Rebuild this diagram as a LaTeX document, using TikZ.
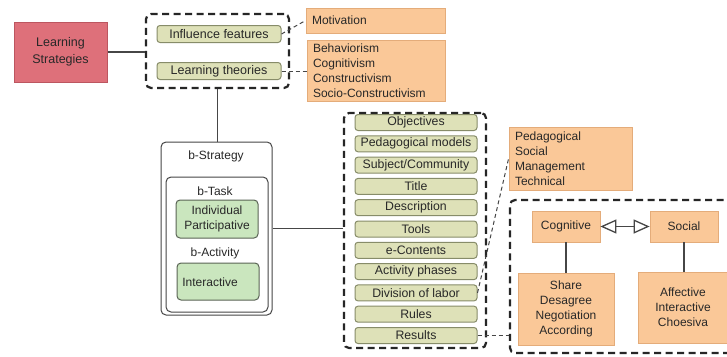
\documentclass[tikz,border=0pt]{standalone}
\usepackage{fontspec}
\setmainfont{Liberation Sans}
\usetikzlibrary{arrows.meta}

\definecolor{orangefill}{RGB}{250,200,152}
\definecolor{orangeedge}{RGB}{228,172,122}
\definecolor{itemfill}{RGB}{222,225,184}
\definecolor{itemedge}{RGB}{135,140,105}
\definecolor{greenfill}{RGB}{202,230,190}
\definecolor{greenedge}{RGB}{90,100,85}
\definecolor{lsfill}{RGB}{222,112,122}
\definecolor{lsedge}{RGB}{188,86,96}
\definecolor{linegray}{RGB}{70,70,70}
\definecolor{txt}{RGB}{40,40,40}

\tikzset{
  base/.style={inner sep=0pt, text=txt, font=\fontsize{12}{15}\selectfont},
  group/.style={draw=black!85, line width=2.2pt, dash pattern=on 7pt off 4.5pt,
    rounded corners=5pt},
  item/.style={base, draw=itemedge, fill=itemfill, line width=1pt,
    rounded corners=3pt, minimum width=122pt, minimum height=16pt,
    font=\fontsize{12.3}{14}\selectfont},
  note/.style={base, draw=orangeedge, fill=orangefill, line width=0.8pt,
    align=left, inner xsep=6pt},
  obox/.style={base, draw=orangeedge, fill=orangefill, line width=0.8pt,
    align=center},
  gbox/.style={base, draw=greenedge, fill=greenfill, line width=1pt,
    rounded corners=4pt, align=center},
  frame/.style={draw=linegray, line width=1pt, rounded corners=5pt, fill=white},
  link/.style={draw=linegray, line width=1.3pt},
  dlink/.style={draw=linegray, line width=1pt, dash pattern=on 4pt off 3pt},
}

\begin{document}
\begin{tikzpicture}[x=1pt, y=-1pt]
\useasboundingbox (0,0) rectangle (727,356);
\clip (0,0) rectangle (727,356);
\fill[white] (0,0) rectangle (727,356);

% root
\node[base, draw=lsedge, fill=lsfill, line width=1pt, minimum width=93pt,
  minimum height=60pt, align=center, font=\fontsize{12.5}{17}\selectfont]
  (ls) at (60.5,52) {Learning\\Strategies};

% influences group
\node[group, minimum width=143pt, minimum height=74pt] (tb) at (217.5,51) {};
\node[item, minimum width=124pt, minimum height=17pt, font=\fontsize{12.5}{15}\selectfont]
  (if) at (219,34) {Influence features};
\node[item, minimum width=124pt, minimum height=17pt, font=\fontsize{12.5}{15}\selectfont]
  (lt) at (219,71) {Learning theories};

\node[note, text width=127pt, minimum height=25pt] (mot) at (375.5,20.5) {Motivation};
\node[note, text width=126pt, minimum height=61pt] (beh) at (376,70.5)
  {Behaviorism\\Cognitivism\\Constructivism\\Socio-Constructivism};

\draw[link] (ls.east) -- (ls.east -| tb.west);
\draw[dlink] (if.east) -- (mot.west);
\draw[dlink] (lt.east) -- (lt.east -| beh.west);

% b-Strategy
\node[frame, minimum width=111pt, minimum height=173pt] (bs) at (216.5,228.5) {};
\node[frame, minimum width=102pt, minimum height=135pt] (bt) at (217,244.5) {};
\node[base] (bsl) at (216,156) {b-Strategy};
\node[base] (btl) at (215,191) {b-Task};
\node[gbox, minimum width=82pt, minimum height=38pt] (ip) at (217,219)
  {Individual\\Participative};
\node[base] (bal) at (215,253) {b-Activity};
\node[gbox, minimum width=82pt, minimum height=37pt] (ia) at (218,281.5) {};
\node[base] (ial) at (210,282) {Interactive};

\draw[link] (tb.south) -- (tb.south |- bs.north);

% attribute list
\node[group, minimum width=142pt, minimum height=235pt] (lb) at (415,230.5) {};
\foreach \nm/\lab [count=\i from 0] in {
  obj/Objectives, pmod/Pedagogical models, subj/{Subject/Community},
  tit/Title, desc/Description, tool/Tools, econ/e-Contents,
  act/Activity phases, div/Division of labor, rul/Rules, res/Results}
  \node[item] (\nm) at (416,122.5+21.3*\i) {\lab};

\draw[link] (bs.east) -- (bs.east -| lb.west);

\node[note, text width=111pt, minimum height=63pt] (ped) at (570.5,158.5)
  {Pedagogical\\Social\\Management\\Technical};
\draw[dlink] (div.east) -- (ped.west);

% interaction group
\node[group, minimum width=230pt, minimum height=153pt] (rb) at (625,276.5) {};
\draw[dlink] (res.east) -- (res.east -| rb.west);

\node[obox, minimum width=68pt, minimum height=31pt] (cog) at (566,226.5) {Cognitive};
\node[obox, minimum width=68pt, minimum height=31pt] (soc) at (684,226.5) {Social};
\node[obox, minimum width=96pt, minimum height=72pt] (shr) at (566,309)
  {Share\\Desagree\\Negotiation\\According};
\node[obox, minimum width=90pt, minimum height=71pt] (aff) at (683,307.5)
  {Affective\\Interactive\\Choesiva};

\draw[draw=linegray, line width=1.3pt,
  {Triangle[open, length=16pt, width=14pt, fill=white]}-{Triangle[open, length=16pt, width=14pt, fill=white]}]
  (cog.east) -- (soc.west);
\draw[link] (cog.south) -- (shr.north);
\draw[link] (soc.south) -- (soc.south |- aff.north);
\end{tikzpicture}
\end{document}
